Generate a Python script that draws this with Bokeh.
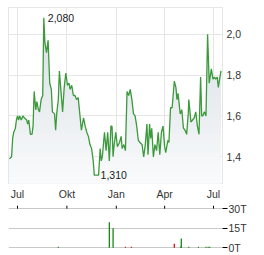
import numpy as np
import pandas as pd
from bokeh.plotting import figure
from bokeh.models import Range1d, FixedTicker, ColumnDataSource
from bokeh.layouts import column
from bokeh.embed import file_html
from bokeh.resources import INLINE
from bokeh.core.properties import value

# ---------------- data ----------------
price_dates = [
    "2024-06-16", "2024-06-20", "2024-06-22", "2024-06-24", "2024-06-27", "2024-06-29",
    "2024-07-01", "2024-07-03", "2024-07-05", "2024-07-08", "2024-07-11", "2024-07-14",
    "2024-07-18", "2024-07-20", "2024-07-22", "2024-07-25", "2024-07-28", "2024-07-30",
    "2024-08-01", "2024-08-04", "2024-08-06", "2024-08-09", "2024-08-11", "2024-08-14",
    "2024-08-17", "2024-08-19", "2024-08-21", "2024-08-24", "2024-08-27", "2024-08-30",
    "2024-09-02", "2024-09-04", "2024-09-08", "2024-09-10", "2024-09-12", "2024-09-15",
    "2024-09-17", "2024-09-20", "2024-09-23", "2024-09-26", "2024-09-29", "2024-10-02",
    "2024-10-05", "2024-10-07", "2024-10-10", "2024-10-13", "2024-10-16", "2024-10-19",
    "2024-10-22", "2024-10-25", "2024-10-28", "2024-11-01", "2024-11-04", "2024-11-07",
    "2024-11-10", "2024-11-13", "2024-11-16", "2024-11-19", "2024-11-21", "2024-11-26",
    "2024-11-29", "2024-12-02", "2024-12-04", "2024-12-06", "2024-12-10", "2024-12-13",
    "2024-12-16", "2024-12-19", "2024-12-22", "2024-12-24", "2024-12-26", "2024-12-28",
    "2024-12-31", "2025-01-03", "2025-01-07", "2025-01-10", "2025-01-12", "2025-01-15",
    "2025-01-18", "2025-01-21", "2025-01-24", "2025-01-27", "2025-01-30", "2025-02-02",
    "2025-02-05", "2025-02-08", "2025-02-11", "2025-02-14", "2025-02-18", "2025-02-21",
    "2025-02-24", "2025-02-27", "2025-03-01", "2025-03-04", "2025-03-06", "2025-03-08",
    "2025-03-11", "2025-03-14", "2025-03-17", "2025-03-20", "2025-03-23", "2025-03-26",
    "2025-03-29", "2025-04-01", "2025-04-03", "2025-04-07", "2025-04-09", "2025-04-12",
    "2025-04-15", "2025-04-19", "2025-04-22", "2025-04-24", "2025-04-26", "2025-04-30",
    "2025-05-03", "2025-05-06", "2025-05-09", "2025-05-12", "2025-05-15", "2025-05-16",
    "2025-05-20", "2025-05-23", "2025-05-26", "2025-05-29", "2025-06-01", "2025-06-04",
    "2025-06-07", "2025-06-09", "2025-06-11", "2025-06-14", "2025-06-17", "2025-06-20",
    "2025-06-23", "2025-06-27", "2025-06-30", "2025-07-03", "2025-07-05", "2025-07-08",
    "2025-07-10", "2025-07-13", "2025-07-15",
]
prices = [
    1.39, 1.40, 1.49, 1.52, 1.54, 1.58,
    1.60, 1.58, 1.60, 1.58, 1.60, 1.59,
    1.58, 1.56, 1.58, 1.51, 1.51, 1.55,
    1.72, 1.63, 1.67, 1.63, 1.62, 1.68,
    1.70, 2.08, 1.96, 1.91, 1.97, 1.76,
    1.73, 1.62, 1.61, 1.53, 1.61, 1.68,
    1.82, 1.72, 1.62, 1.74, 1.81, 1.75,
    1.76, 1.73, 1.75, 1.70, 1.70, 1.68,
    1.69, 1.61, 1.53, 1.59, 1.55, 1.52,
    1.50, 1.46, 1.44, 1.38, 1.31, 1.31,
    1.31, 1.44, 1.38, 1.40, 1.52, 1.43,
    1.52, 1.38, 1.55, 1.55, 1.40, 1.46,
    1.52, 1.45, 1.47, 1.50, 1.44, 1.46,
    1.43, 1.72, 1.70, 1.73, 1.68, 1.61,
    1.60, 1.55, 1.48, 1.47, 1.46, 1.40,
    1.46, 1.56, 1.41, 1.56, 1.49, 1.54,
    1.40, 1.46, 1.43, 1.52, 1.41, 1.52,
    1.55, 1.45, 1.42, 1.48, 1.47, 1.64,
    1.64, 1.77, 1.74, 1.68, 1.71, 1.61,
    1.63, 1.54, 1.53, 1.51, 1.61, 1.68,
    1.57, 1.58, 1.59, 1.62, 1.55, 1.51,
    1.79, 1.60, 1.60, 1.62, 1.60, 2.00,
    1.76, 1.83, 1.78, 1.79, 1.78, 1.79,
    1.74, 1.79, 1.82,
]

volume_dates = [
    "2024-09-15", "2024-12-19", "2024-12-26", "2025-01-18", "2025-01-29",
    "2025-04-19", "2025-05-01", "2025-05-02", "2025-05-16", "2025-06-03",
    "2025-06-17", "2025-06-21", "2025-06-24",
]
volumes_t = [0.8, 19.5, 15.0, 0.8, 0.8, 3.0, 1.0, 7.0, 0.8, 0.8, 0.8, 0.8, 0.8]
volume_up = [True, True, True, False, False, False, True, True, True, True, True, True, True]

tick_dates = ["2024-07-01", "2024-10-01", "2025-01-01", "2025-04-01", "2025-07-01"]
tick_labels = ["Jul", "Okt", "Jan", "Apr", "Jul"]
price_ticks = [1.4, 1.6, 1.8, 2.0]
price_tick_labels = ["1,4", "1,6", "1,8", "2,0"]
volume_ticks = [0, 15, 30]
volume_tick_labels = ["0T", "15T", "30T"]

# ---------------- helpers ----------------
base = pd.Timestamp("2024-07-01")


def to_days(ds):
    return ((pd.to_datetime(ds) - base) / pd.Timedelta(days=1)).to_numpy().astype(float)


px = to_days(price_dates)
py = np.array(prices, dtype=float)
vx = to_days(volume_dates)
tx = [int(round(v)) for v in to_days(tick_dates)]

FONT = "Liberation Sans"
GRID = "#e6e6e6"
LINE = "#3c9a3c"

x_range = Range1d(-16.76, 381.76)
y_lo, y_hi = 1.2694, 2.1306

# ---------------- main price chart ----------------
p = figure(width=264, height=202, x_range=x_range, y_range=Range1d(y_lo, y_hi),
           output_backend="svg", toolbar_location=None, y_axis_location="right",
           min_border_left=8, min_border_right=42, min_border_top=7, min_border_bottom=17,
           background_fill_color="white", border_fill_color="white")
p.outline_line_color = GRID

# gradient-like area fill (top darker, bottom lighter)
top_c = np.array([0xd6, 0xdd, 0xe3], dtype=float)
bot_c = np.array([0xfa, 0xfb, 0xfc], dtype=float)
n_bands = 28
levels = np.linspace(y_hi, y_lo, n_bands + 1)[:-1]
for lv in levels:
    t = (lv - y_lo) / (y_hi - y_lo)
    c = bot_c + (top_c - bot_c) * t
    col = "#%02x%02x%02x" % tuple(int(round(v)) for v in c)
    p.varea(x=px, y1=np.full_like(py, y_lo), y2=np.minimum(py, lv), fill_color=col)

p.line(px, py, line_color=LINE, line_width=1.3)

i_max = int(np.argmax(py))
i_min = int(len(py) - 1 - np.argmin(py[::-1]))
p.text(x=[px[i_max]], y=[py[i_max]], text=[f"{py[i_max]:.3f}".replace(".", ",")],
       text_font=value(FONT), text_font_size="10.5px", text_color="#1a1a1a",
       text_baseline="middle", text_align="left", x_offset=4)
p.text(x=[px[i_min]], y=[py[i_min]], text=[f"{py[i_min]:.3f}".replace(".", ",")],
       text_font=value(FONT), text_font_size="10.5px", text_color="#1a1a1a",
       text_baseline="middle", text_align="left", x_offset=2)

p.xaxis.ticker = FixedTicker(ticks=tx)
p.xaxis.major_label_overrides = dict(zip(tx, tick_labels))
p.yaxis.ticker = FixedTicker(ticks=price_ticks)
p.yaxis.major_label_overrides = dict(zip(price_ticks, price_tick_labels))
for ax in (p.xaxis[0], p.yaxis[0]):
    ax.axis_line_color = None
    ax.major_tick_line_color = None
    ax.minor_tick_line_color = None
    ax.major_tick_in = 0
    ax.major_tick_out = 0
    ax.major_label_text_font = FONT
    ax.major_label_text_font_size = "10.5px"
    ax.major_label_text_color = "#333333"
p.xaxis.major_label_standoff = 4
p.yaxis.major_label_standoff = 4
p.xgrid.ticker = FixedTicker(ticks=tx)
p.ygrid.ticker = FixedTicker(ticks=price_ticks)
p.xgrid.grid_line_color = GRID
p.ygrid.grid_line_color = GRID

# ---------------- volume chart ----------------
v_lo, v_hi = -0.6, 32.4
v = figure(width=264, height=53, x_range=x_range, y_range=Range1d(v_lo, v_hi),
           output_backend="svg", toolbar_location=None, y_axis_location="right",
           x_axis_location=None,
           min_border_left=8, min_border_right=42, min_border_top=3, min_border_bottom=7,
           background_fill_color="white", border_fill_color="white")
v.outline_line_color = None
v.xgrid.grid_line_color = None
v.ygrid.ticker = FixedTicker(ticks=volume_ticks)
v.ygrid.grid_line_color = "#c8c8c8"
v.ygrid.grid_line_width = 1

# month tick marks sitting on the top (30T) line
v.segment(x0=tx, y0=[max(volume_ticks)] * len(tx), x1=tx, y1=[v_hi] * len(tx),
          line_color="#000000", line_width=1)

vcolors = ["#008000" if u else "#cc0000" for u in volume_up]
src = ColumnDataSource(dict(x=vx, y0=np.zeros(len(vx)), y1=volumes_t, c=vcolors))
v.segment(x0="x", y0="y0", x1="x", y1="y1", line_color="c", line_width=1.2, source=src)

v.yaxis.ticker = FixedTicker(ticks=volume_ticks)
v.yaxis.major_label_overrides = dict(zip(volume_ticks, volume_tick_labels))
v.yaxis.axis_line_color = None
v.yaxis.major_tick_line_color = "#000000"
v.yaxis.major_tick_in = 0
v.yaxis.major_tick_out = 5
v.yaxis.minor_tick_line_color = None
v.yaxis.major_label_standoff = 1
v.yaxis.major_label_text_font = FONT
v.yaxis.major_label_text_font_size = "10.5px"
v.yaxis.major_label_text_color = "#333333"

layout = column(p, v, spacing=0)
open("out.html", "w").write(file_html(layout, INLINE))
